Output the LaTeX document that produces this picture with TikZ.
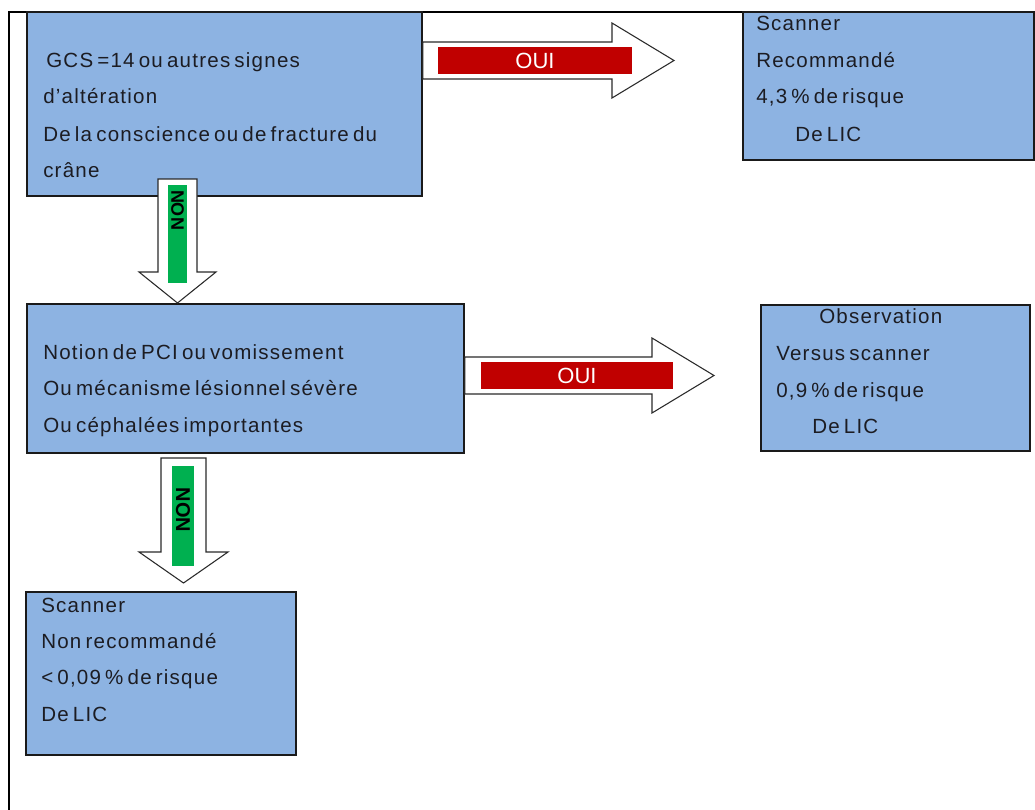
\documentclass[tikz,border=0pt]{standalone}
\usepackage{fontspec}
\setmainfont{Liberation Sans}[LetterSpace=6,WordSpace=0.6]
\newfontfamily\lblfont{Liberation Sans}
\definecolor{boxblue}{HTML}{8DB3E2}
\definecolor{boxline}{HTML}{1A1A1A}
\definecolor{txtcol}{HTML}{1C1C22}
\definecolor{ouired}{HTML}{C00000}
\definecolor{nongreen}{HTML}{00B050}
\definecolor{arrline}{HTML}{2A2A2A}
\begin{document}
\begin{tikzpicture}[x=0.75pt,y=-0.75pt,
  box/.style={draw=boxline, fill=boxblue, line width=1.1pt, inner sep=0pt, rectangle},
  txt/.style={anchor=base west, inner sep=0pt, text=txtcol, font=\fontsize{15.4pt}{18pt}\selectfont},
  blockarrow/.style={draw=arrline, fill=white, line width=0.8pt, line join=miter},
  ouibar/.style={fill=ouired, draw=none, inner sep=0pt, text=white, font=\lblfont\fontsize{16.5pt}{18pt}\selectfont},
  nonbar/.style={fill=nongreen, draw=none, inner sep=0pt},
  nontxt/.style={inner sep=0pt, text=black, rotate=-90, font=\lblfont\bfseries\fontsize{14pt}{16pt}\selectfont},
  frame/.style={draw=black, line width=0.9pt}]
\useasboundingbox (0,0) rectangle (1035,810);
\fill[white] (0,0) rectangle (1035,810);

% outer frame
\draw[frame] (9,810) -- (9,12) -- (1035,12);

% boxes
\node[box, minimum width=296.25pt, minimum height=138pt] (b1) at (224.5,104) {};
\node[box, minimum width=218.25pt, minimum height=111pt] (b2) at (888.5,86) {};
\node[box, minimum width=327.75pt, minimum height=111.75pt] (b3) at (245.5,378.5) {};
\node[box, minimum width=202.5pt, minimum height=122.25pt] (b4) at (161,673.5) {};
\node[box, minimum width=201.75pt, minimum height=109.5pt] (b5) at (895.5,378) {};

% OUI arrows
\draw[blockarrow] (b1.east |- 0,42) -- (612,42) -- (612,23) -- (674,60.5) -- (612,98) -- (612,79) -- (b1.east |- 0,79) -- cycle;
\node[ouibar, minimum width=145.5pt, minimum height=20.25pt] (o1) at (535,60.5) {OUI};

\draw[blockarrow] (b3.east |- 0,357) -- (652,357) -- (652,338) -- (714,375.5) -- (652,413) -- (652,394) -- (b3.east |- 0,394) -- cycle;
\node[ouibar, minimum width=144pt, minimum height=20.25pt] (o2) at (577,375.5) {OUI};

% NON arrows
\draw[blockarrow] (197,179) -- (158,179) -- (158,272) -- (139,272) -- (177.5,303) -- (216,272) -- (197,272) -- cycle;
\node[nonbar, minimum width=14.25pt, minimum height=73.5pt] (g1) at (177.5,234) {};
\node[nontxt, font=\lblfont\bfseries\fontsize{13.5pt}{15pt}\selectfont] (n1) at (177.5,210) {NON};

\draw[blockarrow] (206,458) -- (161,458) -- (161,552) -- (139,552) -- (183.5,583) -- (228,552) -- (206,552) -- cycle;
\node[nonbar, minimum width=16.5pt, minimum height=75pt] (g2) at (183,516) {};
\node[nontxt, font=\lblfont\bfseries\fontsize{15pt}{17pt}\selectfont] (n2) at (183,510) {NON};

% texts box 1
\node[txt] (t1a) at (46,67) {GCS =14 ou autres signes};
\node[txt] (t1b) at (43,103) {d’altération};
\node[txt] (t1c) at (43,141) {De la conscience ou de fracture du};
\node[txt] (t1d) at (43,177) {crâne};

% texts box 2
\node[txt] (t2a) at (756,30) {Scanner};
\node[txt] (t2b) at (756,67) {Recommandé};
\node[txt] (t2c) at (756,103) {4,3 \% de risque};
\node[txt] (t2d) at (795,141) {De LIC};

% texts box 3
\node[txt] (t3a) at (43,359) {Notion de PCI ou vomissement};
\node[txt] (t3b) at (43,395) {Ou mécanisme lésionnel sévère};
\node[txt] (t3c) at (43,432) {Ou céphalées importantes};

% texts box 4
\node[txt] (t4a) at (41,612) {Scanner};
\node[txt] (t4b) at (41,648) {Non recommandé};
\node[txt] (t4c) at (41,684) {< 0,09 \% de risque};
\node[txt] (t4d) at (41,721) {De LIC};

% texts box 5
\node[txt] (t5a) at (819,323) {Observation};
\node[txt] (t5b) at (776,360) {Versus scanner};
\node[txt] (t5c) at (776,397) {0,9 \% de risque};
\node[txt] (t5d) at (812,433) {De LIC};
\end{tikzpicture}
\end{document}
